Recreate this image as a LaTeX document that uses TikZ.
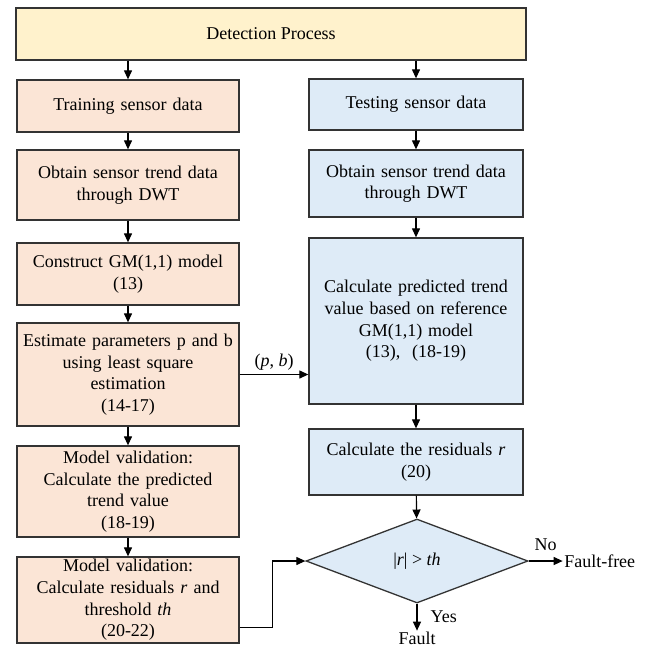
\documentclass[tikz,border=0pt]{standalone}
\usepackage{fontspec}
\setmainfont{Liberation Serif}
\usetikzlibrary{arrows.meta,shapes.geometric}
\definecolor{yel}{HTML}{FFF2CC}
\definecolor{peach}{HTML}{FBE5D6}
\definecolor{lblue}{HTML}{DEEBF7}
\definecolor{edge}{HTML}{333333}
\begin{document}
\begin{tikzpicture}[x=1pt,y=-1pt,
  font=\fontsize{18}{21.6}\selectfont,
  box/.style={draw=edge, line width=1.3pt, align=center, inner sep=0pt},
  topbox/.style={box, fill=yel, minimum width=510pt},
  lbox/.style={box, fill=peach, minimum width=222pt, text width=216pt},
  rbox/.style={box, fill=lblue, minimum width=214pt, text width=210pt},
  arr/.style={draw=black, line width=1.2pt, -{Triangle[length=9pt,width=8pt]}},
  lbl/.style={inner sep=1pt}]
\useasboundingbox (0,0) rectangle (650,649);
\node[topbox, minimum height=52pt] (dp) at (271,34) {Detection Process};
\node[lbox, minimum height=52pt] (tr) at (128,106) {Training sensor data};
\node[rbox, minimum height=51pt] (te) at (416,104.5) {Testing sensor data};
\node[lbox, minimum height=70pt] (lo) at (128,185) {Obtain sensor trend data\\through DWT};
\node[rbox, minimum height=67pt] (ro) at (416,183.5) {Obtain sensor trend data\\through DWT};
\node[lbox, minimum height=62pt] (cg) at (128,274) {Construct GM(1,1) model\\(13)};
\node[rbox, minimum height=166pt] (cp) at (416,321) {Calculate predicted trend\\value based on reference\\GM(1,1) model\\(13),~~(18-19)};
\node[lbox, minimum height=103pt] (es) at (128,374.5) {Estimate parameters p and b\\using least square\\estimation\\(14-17)};
\node[lbox, minimum height=91pt] (mv1) at (128,491.5) {Model validation:\\Calculate the predicted\\trend value\\(18-19)};
\node[rbox, minimum height=66pt] (rr) at (416,462) {Calculate the residuals \textit{r}\\(20)};
\node[lbox, minimum height=86pt] (mv2) at (128,600) {Model validation:\\Calculate residuals \textit{r} and\\threshold \textit{th}\\(20-22)};
\node[diamond, draw=edge, line width=1.3pt, fill=lblue, minimum width=222pt, minimum height=84pt, inner sep=0pt] (dm) at (417,561) {|\textit{r}| > \textit{th}};
\draw[arr] (tr.north |- dp.south) -- (tr.north);
\draw[arr] (te.north |- dp.south) -- (te.north);
\draw[arr] (tr) -- (lo);
\draw[arr] (lo) -- (cg);
\draw[arr] (cg) -- (es);
\draw[arr] (es) -- (mv1);
\draw[arr] (mv1) -- (mv2);
\draw[arr] (te) -- (ro);
\draw[arr] (ro) -- (cp);
\draw[arr] (cp) -- (rr);
\draw[arr] (rr) -- (dm);
\draw[arr] (es.east) -- (es.east -| cp.west) node[midway, above, lbl, yshift=3pt] {(\textit{p}, \textit{b})};
\draw[arr] ([yshift=16pt]mv2.south east) -- ++(33,0) |- (dm.west);
\draw[arr] (dm.east) -- ++(34,0) node[right, lbl] (ff) {Fault-free} node[pos=0.5, above, lbl, yshift=9pt] (no) {No};
\draw[arr] (dm.south) -- ++(0,27) node[below, lbl] (fa) {Fault} node[pos=0.5, right, lbl, xshift=12pt] (yes) {Yes};
\end{tikzpicture}
\end{document}
